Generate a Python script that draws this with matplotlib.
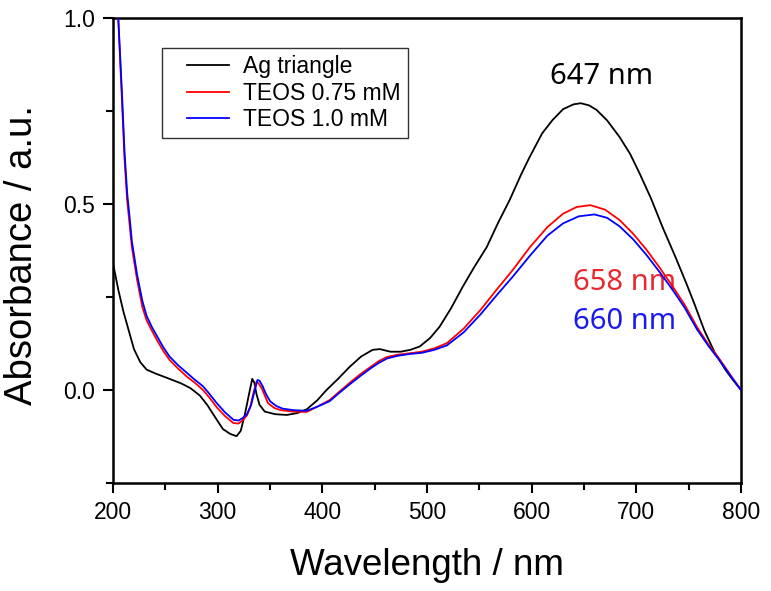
"""
UV-vis absorbance of Ag triangles before / after TEOS coating
"""
import matplotlib
matplotlib.use('Agg')
import matplotlib.pyplot as plt
from matplotlib.lines import Line2D
from matplotlib.legend_handler import HandlerLine2D
from matplotlib.ticker import MultipleLocator, FormatStrFormatter

# Ag triangle (black)
wl_ag = [200, 205, 210, 215, 220, 226, 232, 240, 254, 265, 274, 283, 290, 298,
         305, 312, 318, 322, 326, 330, 333, 335, 337, 340, 345, 355, 366, 376,
         385, 395, 404, 415, 426, 437, 448, 455, 465, 475, 484, 493, 503, 512,
         523, 534, 545, 557, 568, 579, 590, 598, 610, 620, 630, 640, 647, 655,
         662, 672, 684, 694, 703, 714, 725, 737, 748, 755, 765, 775, 785, 792, 800]
abs_ag = [0.34, 0.27, 0.21, 0.16, 0.11, 0.075, 0.055, 0.045, 0.03, 0.018, 0.005,
          -0.015, -0.04, -0.075, -0.105, -0.118, -0.124, -0.11, -0.065, -0.01,
          0.03, 0.02, -0.01, -0.04, -0.058, -0.065, -0.067, -0.062, -0.052,
          -0.028, 0.0, 0.03, 0.062, 0.09, 0.108, 0.11, 0.103, 0.103, 0.108,
          0.117, 0.14, 0.17, 0.22, 0.277, 0.33, 0.384, 0.45, 0.511, 0.58, 0.626,
          0.69, 0.726, 0.755, 0.768, 0.771, 0.765, 0.753, 0.725, 0.68, 0.635,
          0.583, 0.515, 0.438, 0.36, 0.285, 0.235, 0.16, 0.1, 0.055, 0.028, 0.0]

# TEOS 0.75 mM (red)
wl_075 = [200, 205, 208.5, 211, 213.5, 216, 218, 223, 228, 232, 237, 242, 248,
          254, 262, 271, 278, 286, 292, 299, 307, 315, 320, 324, 328, 331, 334,
          337, 339, 342, 345, 348, 354, 360, 372, 385, 395, 407, 416, 426, 436,
          446, 454, 462, 472, 484, 495, 507, 519, 535, 551, 566, 582, 598, 615,
          630, 643, 656, 670, 684, 697, 710, 722, 735, 746, 758, 769, 780, 790, 800]
abs_075 = [1.25, 1.0, 0.78, 0.62, 0.51, 0.44, 0.384, 0.296, 0.223, 0.188, 0.16,
           0.134, 0.105, 0.081, 0.058, 0.035, 0.02, 0.0, -0.02, -0.046, -0.07,
           -0.089, -0.09, -0.081, -0.068, -0.046, -0.01, 0.022, 0.018, 0.005,
           -0.015, -0.035, -0.048, -0.054, -0.058, -0.059, -0.045, -0.027,
           -0.005, 0.019, 0.042, 0.062, 0.078, 0.089, 0.095, 0.099, 0.103, 0.112,
           0.126, 0.165, 0.215, 0.268, 0.323, 0.383, 0.438, 0.474, 0.492, 0.497,
           0.485, 0.457, 0.42, 0.376, 0.33, 0.277, 0.23, 0.169, 0.122, 0.081,
           0.04, 0.0]

# TEOS 1.0 mM (blue)
wl_10 = [200, 205, 208.5, 211, 213.5, 216, 218, 223, 228, 232, 237, 242, 248,
         254, 262, 271, 278, 286, 292, 299, 307, 315, 320, 324, 328, 332, 335,
         338, 340, 343, 346, 350, 356, 362, 372, 385, 395, 407, 416, 426, 436,
         446, 454, 462, 472, 484, 495, 507, 519, 535, 551, 566, 582, 598, 615,
         630, 645, 660, 672, 684, 697, 710, 722, 735, 746, 758, 769, 780, 790, 800]
abs_10 = [1.25, 1.0, 0.8, 0.64, 0.53, 0.46, 0.4, 0.31, 0.24, 0.2, 0.17, 0.145,
          0.115, 0.09, 0.067, 0.045, 0.028, 0.01, -0.01, -0.035, -0.06, -0.08,
          -0.082, -0.075, -0.065, -0.04, -0.005, 0.027, 0.025, 0.01, -0.01,
          -0.03, -0.043, -0.05, -0.054, -0.056, -0.045, -0.03, -0.008, 0.015,
          0.037, 0.058, 0.073, 0.085, 0.092, 0.097, 0.1, 0.108, 0.12, 0.155,
          0.203, 0.253, 0.305, 0.36, 0.415, 0.448, 0.467, 0.472, 0.463, 0.44,
          0.405, 0.362, 0.318, 0.268, 0.222, 0.163, 0.118, 0.078, 0.038, 0.0]

labels = ['Ag triangle', 'TEOS 0.75 mM', 'TEOS 1.0 mM']
colors = ['black', '#ff0000', '#0000ff']


def main():
    plt.rcParams['font.family'] = ['Liberation Sans', 'DejaVu Sans']

    fig = plt.figure(figsize=(7.71, 5.91), dpi=100)
    ax = fig.add_axes([0.1466, 0.1827, 0.8145, 0.7868])

    series = [(wl_ag, abs_ag), (wl_075, abs_075), (wl_10, abs_10)]
    for (x, y), lab, c in zip(series, labels, colors):
        ax.plot(x, y, color=c, lw=1.3, label=lab, zorder=3)

    ax.set_xlim(200, 800)
    ax.set_ylim(-0.25, 1.0)
    ax.xaxis.set_major_locator(MultipleLocator(100))
    ax.xaxis.set_minor_locator(MultipleLocator(50))
    ax.yaxis.set_major_locator(MultipleLocator(0.5))
    ax.yaxis.set_minor_locator(MultipleLocator(0.25))
    ax.yaxis.set_major_formatter(FormatStrFormatter('%.1f'))

    ax.tick_params(which='major', direction='out', length=7, width=1.5,
                   labelsize=16.5, pad=6)
    ax.tick_params(which='minor', direction='out', length=5, width=1.5)
    for s in ax.spines.values():
        s.set_linewidth(1.8)

    ax.set_xlabel('Wavelength / nm', fontsize=26.5, labelpad=17)
    ax.set_ylabel('Absorbance / a.u.', fontsize=27.5)
    ax.yaxis.set_label_coords(-0.117, 0.49)

    leg = ax.legend(loc='upper left', bbox_to_anchor=(0.078, 0.935),
                    fontsize=16.5, frameon=True, fancybox=False,
                    edgecolor='black', labelspacing=0.15, handlelength=2.62,
                    handletextpad=0.62, borderpad=0.3, borderaxespad=0,
                    handler_map={Line2D: HandlerLine2D(xpad=0.79)})
    leg.get_frame().set_linewidth(1.0)

    ann_font = ['Noto Sans', 'DejaVu Sans']
    ax.text(667, 0.844, '647 nm', color='black', fontsize=21, family=ann_font,
            ha='center', va='center', zorder=1)
    ax.text(639.5, 0.29, '658 nm', color='#e8282f', fontsize=21,
            family=ann_font, ha='left', va='center', zorder=1)
    ax.text(639.5, 0.183, '660 nm', color='#1a1aee', fontsize=21,
            family=ann_font, ha='left', va='center', zorder=1)

    fig.savefig('out.png', dpi=100)


if __name__ == '__main__':
    main()
